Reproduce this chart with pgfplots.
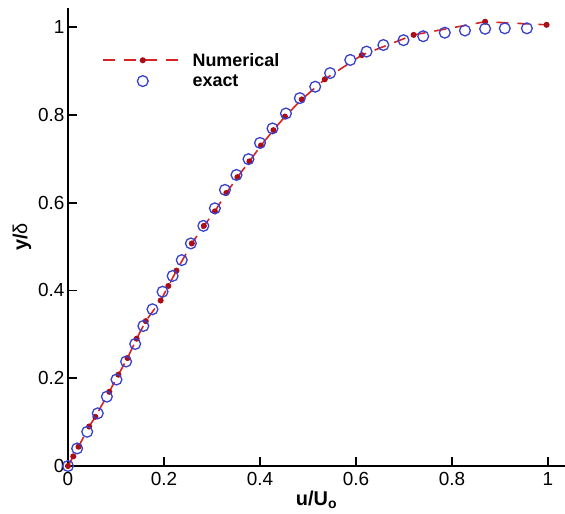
\documentclass[border=0pt]{standalone}
\usepackage{pgfplots}
\pgfplotsset{compat=1.18}
\usepackage{fontspec}
\setmainfont{Liberation Sans}
\definecolor{exblue}{RGB}{55,65,205}
\definecolor{numred}{RGB}{215,35,35}
\definecolor{dotred}{RGB}{170,15,25}
\pgfplotsset{
  numleg/.style={legend image code/.code={\path (0bp,0bp) (87bp,0bp); \draw[##1] (0bp,0bp) -- (80bp,0bp); \path[##1] plot[only marks] coordinates {(40bp,0bp)};}},
  exleg/.style={legend image code/.code={\path (0bp,0bp) (87bp,0bp); \path[##1] plot[only marks] coordinates {(40bp,0bp)};}},
}
\pgfplotstableread{
x y
0.000 0.000
0.019 0.040
0.040 0.078
0.062 0.120
0.081 0.158
0.101 0.197
0.121 0.238
0.140 0.278
0.157 0.319
0.176 0.357
0.197 0.397
0.218 0.433
0.237 0.469
0.256 0.507
0.282 0.547
0.306 0.587
0.327 0.629
0.351 0.663
0.376 0.699
0.400 0.736
0.426 0.769
0.454 0.803
0.483 0.838
0.515 0.864
0.546 0.895
0.588 0.925
0.622 0.944
0.657 0.959
0.699 0.970
0.740 0.979
0.785 0.987
0.827 0.992
0.869 0.996
0.910 0.997
0.956 0.997
}\exact
\pgfplotstableread{
x y
0.000 0.000
0.011 0.022
0.022 0.044
0.044 0.090
0.057 0.112
0.086 0.169
0.105 0.208
0.124 0.246
0.143 0.290
0.162 0.330
0.193 0.377
0.209 0.410
0.226 0.445
0.258 0.507
0.283 0.547
0.306 0.580
0.330 0.622
0.353 0.658
0.378 0.694
0.402 0.730
0.428 0.765
0.452 0.796
0.487 0.835
0.535 0.881
0.612 0.936
0.720 0.982
0.869 1.012
0.997 1.005
}\numerical
\begin{document}
\begin{tikzpicture}
\path[use as bounding box] (-68bp,-48bp) rectangle (497bp,466bp);
\begin{axis}[
  scale only axis,
  width=497bp, height=458bp,
  xmin=0, xmax=1.0354, ymin=0, ymax=1.0433,
  axis x line=bottom, axis y line=left,
  axis line style={-, line width=2.2bp},
  every outer x axis line/.append style={-},
  every outer y axis line/.append style={-},
  tick align=inside,
  major tick length=9bp,
  tick style={line width=1.8bp, black},
  xtick={0,0.2,0.4,0.6,0.8,1},
  ytick={0,0.2,0.4,0.6,0.8,1},
  /pgf/number format/assume math mode=true,
  tick label style={font=\fontsize{19}{22}\selectfont},
  xticklabel style={yshift=-3bp},
  yticklabel style={xshift=0bp},
  xlabel={\textbf{u/U\textsubscript{o}}},
  ylabel={\textbf{y/}δ},
  label style={font=\fontsize{20}{23}\selectfont},
  xlabel style={yshift=2bp},
  ylabel style={yshift=0bp},
  legend style={draw=none, fill=none, at={(axis description cs:0.062,0.9108)}, anchor=north west,
    font=\bfseries\fontsize{18}{21}\selectfont, row sep=3bp},
  legend cell align=left,
  clip=false,
]
\addplot[color=numred, line width=1.6bp, dash pattern=on 12bp off 9bp,
  mark=*, mark size=2.2bp, mark options={solid, fill=dotred, draw=dotred}, numleg]
  table[x=x,y=y] {\numerical};
\addlegendentry{Numerical}
\addplot[only marks, mark=o, mark size=5.4bp, color=exblue, mark options={line width=1.3bp}, exleg]
  table[x=x,y=y] {\exact};
\addlegendentry{exact}
\end{axis}
\end{tikzpicture}
\end{document}
